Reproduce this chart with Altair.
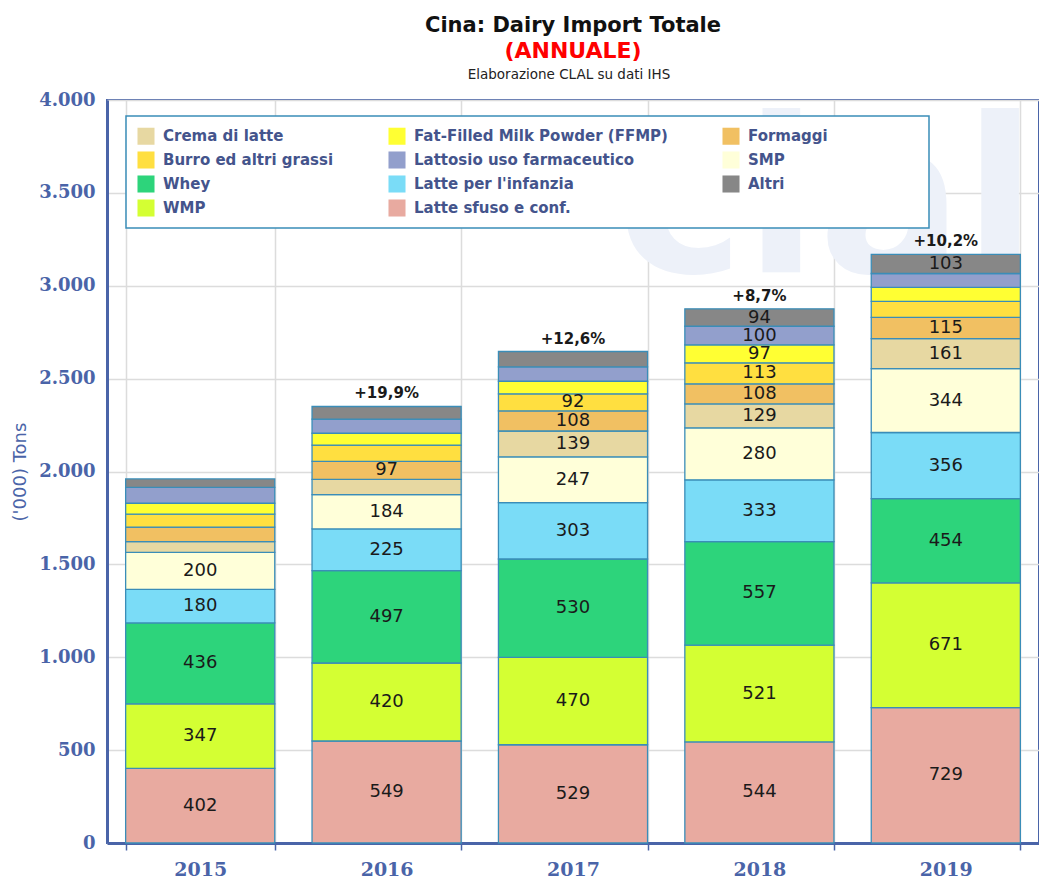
import altair as alt
import pandas as pd

years = ["2015", "2016", "2017", "2018", "2019"]

# stacked bottom -> top
latte_sfuso = [402, 549, 529, 544, 729]
wmp = [347, 420, 470, 521, 671]
whey = [436, 497, 530, 557, 454]
infanzia = [180, 225, 303, 333, 356]
smp = [200, 184, 247, 280, 344]
crema = [57, 83, 139, 129, 161]
formaggi = [79, 97, 108, 108, 115]
burro = [69, 87, 92, 113, 86]
ffmp = [59, 64, 68, 97, 75]
lattosio = [86, 76, 77, 100, 75]
altri = [45, 68, 83, 94, 103]

growth = ["", "+19,9%", "+12,6%", "+8,7%", "+10,2%"]

stack_names = ["Latte sfuso e conf.", "WMP", "Whey", "Latte per l'infanzia", "SMP",
               "Crema di latte", "Formaggi", "Burro ed altri grassi",
               "Fat-Filled Milk Powder (FFMP)", "Lattosio uso farmaceutico", "Altri"]
stack_values = [latte_sfuso, wmp, whey, infanzia, smp, crema, formaggi, burro, ffmp, lattosio, altri]

# legend, filled column by column
legend_order = ["Crema di latte", "Burro ed altri grassi", "Whey", "WMP",
                "Fat-Filled Milk Powder (FFMP)", "Lattosio uso farmaceutico",
                "Latte per l'infanzia", "Latte sfuso e conf.",
                "Formaggi", "SMP", "Altri"]
legend_colors = ["#E7D8A2", "#FFDF40", "#2DD47B", "#D4FF33",
                 "#FFFF33", "#929FCC", "#7ADCF7", "#E8AAA0",
                 "#F1C062", "#FFFFD9", "#878787"]

rows = []
for i, yr in enumerate(years):
    base = 0
    for k, (name, vals) in enumerate(zip(stack_names, stack_values)):
        v = vals[i]
        rows.append({"year": yr, "cat": name, "value": v, "start": base, "end": base + v,
                     "mid": base + v / 2, "label": str(v) if v >= 90 else "", "k": k})
        base += v
df = pd.DataFrame(rows)
tot = pd.DataFrame({"year": years,
                    "total": [sum(s[i] for s in stack_values) for i in range(len(years))],
                    "growth": growth})

BLUE = "#4A64A8"

xscale = alt.Scale(domain=years, paddingInner=0.2, paddingOuter=0.1)
yscale = alt.Scale(domain=[0, 4000], nice=False)

x_enc = alt.X("year:N", title=None, scale=xscale,
              axis=alt.Axis(labelAngle=0, tickBand="extent", grid=True, gridColor="#DCDCDC",
                            gridWidth=1.5, domainColor=BLUE, domainWidth=3, tickColor=BLUE,
                            tickSize=7, tickWidth=1.5, labelFont="DejaVu Serif",
                            labelFontWeight="bold", labelFontSize=19, labelColor=BLUE,
                            labelPadding=10))

y_axis = alt.Axis(values=[0, 500, 1000, 1500, 2000, 2500, 3000, 3500, 4000],
                  labelExpr="replace(format(datum.value, ','), ',', '.')",
                  grid=True, gridColor="#DCDCDC", gridWidth=1.5, domainColor=BLUE,
                  domainWidth=3, ticks=False, labelFont="DejaVu Serif", labelFontWeight="bold",
                  labelFontSize=18, labelColor=BLUE, labelPadding=12,
                  title="('000) Tons", titleFont="DejaVu Sans", titleFontWeight="normal",
                  titleFontSize=18, titleColor=BLUE, titlePadding=9)

one = alt.Data(values=[{}])

watermark = alt.Chart(one).mark_text(
    text="clal", font="DejaVu Sans", fontWeight="bold", fontSize=215,
    color="#EDF1F9", align="left", baseline="alphabetic"
).encode(x=alt.value(510), y=alt.value(172))

legend_frame = alt.Chart(one).mark_rect(fill="white", stroke="#3A8DB8", strokeWidth=1.5).encode(
    x=alt.value(19), x2=alt.value(822), y=alt.value(16), y2=alt.value(128))

subnote = alt.Chart(one).mark_text(
    text="Elaborazione CLAL su dati IHS", font="DejaVu Sans", fontSize=13.5,
    color="#222222", align="center", baseline="alphabetic"
).encode(x=alt.value(462), y=alt.value(-21))

bars = alt.Chart(df).mark_bar(stroke="#3A8DB8", strokeWidth=1.3).encode(
    x=x_enc,
    y=alt.Y("start:Q", scale=yscale, axis=y_axis),
    y2="end:Q",
    color=alt.Color("cat:N", scale=alt.Scale(domain=legend_order, range=legend_colors),
                    legend=alt.Legend(title=None, orient="none", legendX=19, legendY=16,
                                      columns=3, padding=11, symbolType="square",
                                      symbolSize=290, symbolStrokeWidth=0, labelFont="DejaVu Sans",
                                      labelFontWeight="bold", labelFontSize=15,
                                      labelColor="#44548C", rowPadding=6, columnPadding=54,
                                      labelOffset=8, labelLimit=600)),
)

labels = alt.Chart(df).mark_text(font="DejaVu Sans", fontSize=18, color="#1A1A1A",
                                 baseline="middle").encode(
    x=alt.X("year:N", scale=xscale),
    y=alt.Y("mid:Q", scale=yscale),
    text="label:N",
)

growth_txt = alt.Chart(tot).mark_text(font="DejaVu Sans", fontWeight="bold", fontSize=15,
                                      color="#1A1A1A", baseline="alphabetic", dy=-8).encode(
    x=alt.X("year:N", scale=xscale),
    y=alt.Y("total:Q", scale=yscale),
    text="growth:N",
)

chart = alt.layer(watermark, legend_frame, bars, labels, growth_txt, subnote).properties(
    width=932, height=743,
    title=alt.TitleParams(text="Cina: Dairy Import Totale", subtitle="(ANNUALE)",
                          font="DejaVu Sans", fontSize=21, fontWeight="bold", color="#111111",
                          subtitleFont="DejaVu Sans", subtitleFontSize=22,
                          subtitleFontWeight="bold", subtitleColor="#FF0000",
                          subtitlePadding=5, anchor="middle", offset=6),
    padding={"left": 3, "right": 0, "top": 7, "bottom": 0},
).configure_view(stroke=BLUE, strokeWidth=2)

chart.save("out.html", embed_options={"renderer": "svg", "actions": False})
